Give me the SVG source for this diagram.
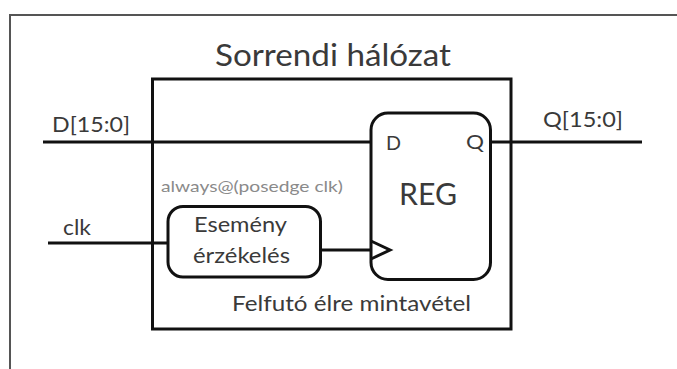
<svg xmlns="http://www.w3.org/2000/svg" width="677" height="369" viewBox="0 0 677 369">
  <style>
    .t { font-family: Lato, "Liberation Sans", sans-serif; fill: #3a3a3a; }
    .box { fill: none; stroke: #111; stroke-width: 3; }
    .wire { fill: none; stroke: #111; stroke-width: 3; }
    .frame { fill: none; stroke: #555; stroke-width: 2; }
  </style>
  <rect width="677" height="369" fill="#fff"/>

  <!-- outer frame (open to the right and bottom) -->
  <path class="frame" d="M10,369 V15 H677"/>

  <!-- title -->
  <text class="t" x="215" y="66" font-size="30" textLength="236" lengthAdjust="spacingAndGlyphs">Sorrendi hálózat</text>

  <!-- connectors -->
  <g id="connectors">
    <path class="wire" d="M43,142 H371"/>
    <path class="wire" d="M490,142 H642"/>
    <path class="wire" d="M48,243 H168"/>
    <path class="wire" d="M320,250 H371"/>
  </g>

  <!-- enclosing module -->
  <g id="module">
    <rect class="box" x="152.5" y="79" width="358.5" height="250"/>
    <text class="t" x="232" y="311" font-size="22" textLength="239" lengthAdjust="spacingAndGlyphs">Felfutó élre mintavétel</text>
  </g>

  <!-- port labels -->
  <g id="port-d">
    <text class="t" x="52" y="132" font-size="21" textLength="78" lengthAdjust="spacingAndGlyphs">D[15:0]</text>
  </g>
  <g id="port-q">
    <text class="t" x="543" y="127" font-size="21" textLength="80" lengthAdjust="spacingAndGlyphs">Q[15:0]</text>
  </g>
  <g id="port-clk">
    <text class="t" x="63" y="235" font-size="21" textLength="28" lengthAdjust="spacingAndGlyphs">clk</text>
  </g>

  <!-- edge detector block -->
  <g id="edge-detect">
    <text x="161" y="192" font-family="Lato, 'Liberation Sans', sans-serif" font-size="15" fill="#8a8a8a" textLength="182" lengthAdjust="spacingAndGlyphs">always@(posedge clk)</text>
    <rect class="box" x="168" y="206.5" width="152.5" height="70.5" rx="15" ry="15"/>
    <text class="t" x="194" y="232" font-size="21" textLength="93" lengthAdjust="spacingAndGlyphs">Esemény</text>
    <text class="t" x="193" y="263" font-size="21" textLength="97" lengthAdjust="spacingAndGlyphs">érzékelés</text>
  </g>

  <!-- register -->
  <g id="reg">
    <rect class="box" x="371" y="113" width="119.5" height="166.5" rx="17" ry="17"/>
    <path class="wire" d="M371,241 L390,250 L371,259"/>
    <text class="t" x="386" y="149.5" font-size="20" textLength="15" lengthAdjust="spacingAndGlyphs">D</text>
    <text class="t" x="466" y="149" font-size="20" textLength="18" lengthAdjust="spacingAndGlyphs">Q</text>
    <text class="t" x="399" y="204.5" font-size="31" textLength="58" lengthAdjust="spacingAndGlyphs">REG</text>
  </g>
</svg>
